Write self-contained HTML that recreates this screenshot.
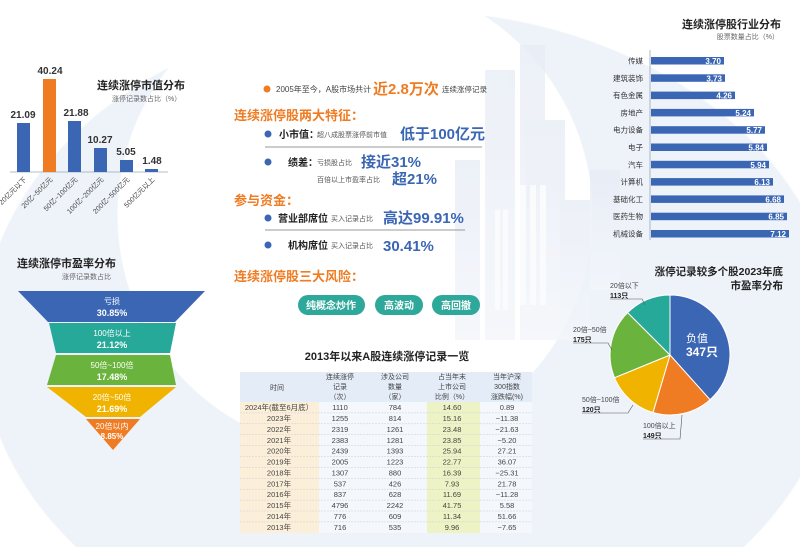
<!DOCTYPE html>
<html><head><meta charset="utf-8">
<style>
html,body{margin:0;padding:0;width:800px;height:547px;overflow:hidden;}
body{background:
radial-gradient(circle 238px at 355px 215px,#ffffff 99.6%,rgba(255,255,255,0) 100%),
radial-gradient(ellipse 430px 330px at 410px 340px,#eef3fa 99.6%,#ffffff 100%);}
svg{display:block;font-family:"Liberation Sans","Noto Sans CJK SC",sans-serif;}
</style></head><body>
<svg width="800" height="547" viewBox="0 0 800 547" xmlns="http://www.w3.org/2000/svg">
<defs>
<linearGradient id="bld" x1="0" y1="0" x2="0" y2="1">
<stop offset="0" stop-color="#e8edf6"/><stop offset="1" stop-color="#f3f6fb"/>
</linearGradient>
</defs>
<g fill="url(#bld)" opacity="0.8">
<rect x="485" y="70" width="30" height="270"/>
<rect x="520" y="45" width="25" height="295"/>
<rect x="525" y="120" width="40" height="220"/>
<rect x="560" y="200" width="30" height="140"/>
<rect x="455" y="160" width="25" height="180"/>
<rect x="590" y="170" width="30" height="120"/>
</g>
<g fill="#fbfcfe" opacity="0.9">
<rect x="520" y="185" width="6" height="120"/><rect x="530" y="185" width="6" height="120"/><rect x="540" y="185" width="6" height="120"/>
<rect x="495" y="210" width="5" height="100"/><rect x="503" y="210" width="5" height="100"/>
</g>

<!-- market value bar chart -->
<g>
<line x1="10" y1="172" x2="168" y2="172" stroke="#9aa6b8" stroke-width="0.8"/>
<rect x="17" y="123" width="13" height="49" fill="#3a66b4"/>
<rect x="43" y="79" width="13" height="93" fill="#ef7b22"/>
<rect x="68" y="121" width="13" height="51" fill="#3a66b4"/>
<rect x="94" y="148" width="13" height="24" fill="#3a66b4"/>
<rect x="120" y="160" width="13" height="12" fill="#3a66b4"/>
<rect x="145" y="169" width="13" height="3" fill="#3a66b4"/>
<g font-size="10" font-weight="bold" fill="#333" text-anchor="middle">
<text x="23" y="118">21.09</text><text x="50" y="74">40.24</text><text x="76" y="116">21.88</text>
<text x="100" y="143">10.27</text><text x="126" y="155">5.05</text><text x="152" y="164">1.48</text>
</g>
<g font-size="7" fill="#444" text-anchor="end">
<text transform="translate(27,180) rotate(-45)">20亿元以下</text>
<text transform="translate(53,180) rotate(-45)">20亿~50亿元</text>
<text transform="translate(78,180) rotate(-45)">50亿~100亿元</text>
<text transform="translate(104,180) rotate(-45)">100亿~200亿元</text>
<text transform="translate(130,180) rotate(-45)">200亿~500亿元</text>
<text transform="translate(155,180) rotate(-45)">500亿元以上</text>
</g>
<text x="97" y="89" font-size="11" font-weight="bold" fill="#222">连续涨停市值分布</text>
<text x="112" y="101" font-size="7" fill="#666">涨停记录数占比（%）</text>
</g>

<!-- funnel -->
<g>
<text x="17" y="267" font-size="11" font-weight="bold" fill="#222">连续涨停市盈率分布</text>
<text x="62" y="279" font-size="7" fill="#666">涨停记录数占比</text>
<polygon points="18,291 205,291 175,322 48,322" fill="#3a66b4"/>
<polygon points="49,323 176,323 170,353 56,353" fill="#27a99a"/>
<polygon points="56,355 170,355 176,385 47,385" fill="#6ab33c"/>
<polygon points="47,387 176,387 140,417 86,417" fill="#f0b400"/>
<polygon points="86,419 140,419 113,450" fill="#ef7b22"/>
<g fill="#fff" text-anchor="middle" font-size="8">
<text x="112" y="304">亏损</text><text x="112" y="316" font-size="9" font-weight="bold">30.85%</text>
<text x="112" y="336">100倍以上</text><text x="112" y="348" font-size="9" font-weight="bold">21.12%</text>
<text x="112" y="368">50倍~100倍</text><text x="112" y="380" font-size="9" font-weight="bold">17.48%</text>
<text x="112" y="400">20倍~50倍</text><text x="112" y="412" font-size="9" font-weight="bold">21.69%</text>
<text x="112" y="429">20倍以内</text><text x="112" y="439" font-size="8" font-weight="bold">8.85%</text>
</g>
</g>

<!-- center text -->
<g>
<circle cx="267" cy="89" r="3.5" fill="#ef7b22"/>
<text x="276" y="92" font-size="8" fill="#444">2005年至今，A股市场共计</text>
<text x="373" y="94" font-size="15" font-weight="bold" fill="#ef7b22">近2.8万次</text>
<text x="442" y="92" font-size="7.5" fill="#444">连续涨停记录</text>
<text x="234" y="120" font-size="13" font-weight="bold" fill="#ef7b22">连续涨停股两大特征：</text>
<circle cx="268" cy="134" r="3.5" fill="#3a66b4"/>
<text x="279" y="138" font-size="10" font-weight="bold" fill="#222">小市值：</text>
<text x="317" y="137" font-size="7" fill="#555">超八成股票涨停前市值</text>
<text x="400" y="139" font-size="15" font-weight="bold" fill="#3a66b4">低于100亿元</text>
<line x1="265" y1="147" x2="482" y2="147" stroke="#999" stroke-width="1"/>
<circle cx="268" cy="162" r="3.5" fill="#3a66b4"/>
<text x="288" y="166" font-size="10" font-weight="bold" fill="#222">绩差：</text>
<text x="317" y="165" font-size="7" fill="#555">亏损股占比</text>
<text x="361" y="167" font-size="15" font-weight="bold" fill="#3a66b4">接近31%</text>
<text x="317" y="182" font-size="7" fill="#555">百倍以上市盈率占比</text>
<text x="392" y="184" font-size="15" font-weight="bold" fill="#3a66b4">超21%</text>
<text x="234" y="205" font-size="13" font-weight="bold" fill="#ef7b22">参与资金：</text>
<circle cx="268" cy="218" r="3.5" fill="#3a66b4"/>
<text x="278" y="222" font-size="10" font-weight="bold" fill="#222">营业部席位</text>
<text x="331" y="221" font-size="7" fill="#555">买入记录占比</text>
<text x="383" y="223" font-size="15" font-weight="bold" fill="#3a66b4">高达99.91%</text>
<line x1="265" y1="230" x2="465" y2="230" stroke="#999" stroke-width="1"/>
<circle cx="268" cy="245" r="3.5" fill="#3a66b4"/>
<text x="288" y="249" font-size="10" font-weight="bold" fill="#222">机构席位</text>
<text x="331" y="248" font-size="7" fill="#555">买入记录占比</text>
<text x="383" y="251" font-size="15" font-weight="bold" fill="#3a66b4">30.41%</text>
<text x="234" y="281" font-size="13" font-weight="bold" fill="#ef7b22">连续涨停股三大风险：</text>
<rect x="298" y="295" width="67" height="20" rx="10" fill="#2ea89a"/>
<rect x="375" y="295" width="48" height="20" rx="10" fill="#2ea89a"/>
<rect x="432" y="295" width="48" height="20" rx="10" fill="#2ea89a"/>
<g fill="#fff" font-size="10" font-weight="bold" text-anchor="middle">
<text x="331" y="309">纯概念炒作</text><text x="399" y="309">高波动</text><text x="456" y="309">高回撤</text>
</g>
</g>

<!-- industry chart -->
<g>
<text x="781" y="28" font-size="11" font-weight="bold" fill="#222" text-anchor="end">连续涨停股行业分布</text>
<text x="779" y="39" font-size="7" fill="#666" text-anchor="end">股票数量占比（%）</text>
<line x1="650" y1="50" x2="650" y2="240" stroke="#9aa6b8" stroke-width="0.8"/>
<g font-size="7.5" fill="#333" text-anchor="end">
<text x="643" y="63.5">传媒</text><text x="643" y="80.8">建筑装饰</text><text x="643" y="98.1">有色金属</text>
<text x="643" y="115.4">房地产</text><text x="643" y="132.7">电力设备</text><text x="643" y="150">电子</text>
<text x="643" y="167.3">汽车</text><text x="643" y="184.6">计算机</text><text x="643" y="201.9">基础化工</text>
<text x="643" y="219.2">医药生物</text><text x="643" y="236.5">机械设备</text>
</g>
<g fill="#3a66b4">
<rect x="651" y="57" width="73" height="7.5"/>
<rect x="651" y="74.3" width="74" height="7.5"/>
<rect x="651" y="91.6" width="84" height="7.5"/>
<rect x="651" y="108.9" width="103" height="7.5"/>
<rect x="651" y="126.2" width="114" height="7.5"/>
<rect x="651" y="143.5" width="116" height="7.5"/>
<rect x="651" y="160.8" width="118" height="7.5"/>
<rect x="651" y="178.1" width="122" height="7.5"/>
<rect x="651" y="195.4" width="133" height="7.5"/>
<rect x="651" y="212.7" width="136" height="7.5"/>
<rect x="651" y="230" width="138" height="7.5"/>
</g>
<g font-size="8" font-weight="bold" fill="#fff" text-anchor="end">
<text x="721" y="64">3.70</text><text x="722" y="81.3">3.73</text><text x="732" y="98.6">4.26</text>
<text x="751" y="115.9">5.24</text><text x="762" y="133.2">5.77</text><text x="764" y="150.5">5.84</text>
<text x="766" y="167.8">5.94</text><text x="770" y="185.1">6.13</text><text x="781" y="202.4">6.68</text>
<text x="784" y="219.7">6.85</text><text x="786" y="237">7.12</text>
</g>
</g>

<!-- pie -->
<g>
<text x="783" y="275" font-size="10.5" font-weight="bold" fill="#222" text-anchor="end">涨停记录较多个股2023年底</text>
<text x="783" y="289" font-size="10.5" font-weight="bold" fill="#222" text-anchor="end">市盈率分布</text>
<g stroke="#fff" stroke-width="1">
<path d="M670 355 L670 295 A60 60 0 0 1 710.0 399.7 Z" fill="#3a66b4"/>
<path d="M670 355 L710.0 399.7 A60 60 0 0 1 653.0 412.5 Z" fill="#ef7b22"/>
<path d="M670 355 L653.0 412.5 A60 60 0 0 1 614.5 377.7 Z" fill="#f0b400"/>
<path d="M670 355 L614.5 377.7 A60 60 0 0 1 627.6 312.6 Z" fill="#6ab33c"/>
<path d="M670 355 L627.6 312.6 A60 60 0 0 1 670 295 Z" fill="#27a99a"/>
</g>
<text x="686" y="342" font-size="11" fill="#fff">负值</text>
<text x="686" y="356" font-size="12" font-weight="bold" fill="#fff">347只</text>
<g stroke="#555" stroke-width="0.6" fill="none">
<polyline points="610,299 642,299 645,305"/>
<polyline points="573,343 608,343 612,350"/>
<polyline points="582,413 628,413 633,405"/>
<polyline points="643,439 680,439 682,415"/>
</g>
<g font-size="7" fill="#444">
<text x="610" y="288">20倍以下</text><text x="610" y="298" font-weight="bold" fill="#222">113只</text>
<text x="573" y="332">20倍~50倍</text><text x="573" y="342" font-weight="bold" fill="#222">175只</text>
<text x="582" y="402">50倍~100倍</text><text x="582" y="412" font-weight="bold" fill="#222">120只</text>
<text x="643" y="428">100倍以上</text><text x="643" y="438" font-weight="bold" fill="#222">149只</text>
</g>
</g>

<!-- table -->
<g>
<text x="387" y="360" font-size="11" font-weight="bold" fill="#222" text-anchor="middle">2013年以来A股连续涨停记录一览</text>
<rect x="240" y="372" width="292" height="30" fill="#e3ecf7"/>
<rect x="240" y="402" width="79" height="131" fill="#fcefd9"/>
<rect x="319" y="402" width="213" height="131" fill="#f4f7fb"/>
<rect x="427" y="402" width="53" height="131" fill="#eef3c6"/>
<g font-size="7" fill="#444" text-anchor="middle">
<text x="277" y="390">时间</text>
<text x="340" y="379">连续涨停</text><text x="340" y="389">记录</text><text x="340" y="399">（次）</text>
<text x="395" y="379">涉及公司</text><text x="395" y="389">数量</text><text x="395" y="399">（家）</text>
<text x="452" y="379">占当年末</text><text x="452" y="389">上市公司</text><text x="452" y="399">比例（%）</text>
<text x="507" y="379">当年沪深</text><text x="507" y="389">300指数</text><text x="507" y="399">涨跌幅(%)</text>
</g>
<g stroke="#c8cfd9" stroke-width="0.5" stroke-dasharray="2,1">
<line x1="240" y1="412.9" x2="532" y2="412.9"/><line x1="240" y1="423.8" x2="532" y2="423.8"/>
<line x1="240" y1="434.7" x2="532" y2="434.7"/><line x1="240" y1="445.6" x2="532" y2="445.6"/>
<line x1="240" y1="456.5" x2="532" y2="456.5"/><line x1="240" y1="467.4" x2="532" y2="467.4"/>
<line x1="240" y1="478.3" x2="532" y2="478.3"/><line x1="240" y1="489.2" x2="532" y2="489.2"/>
<line x1="240" y1="500.1" x2="532" y2="500.1"/><line x1="240" y1="511" x2="532" y2="511"/>
<line x1="240" y1="521.9" x2="532" y2="521.9"/>
</g>
<g font-size="7.5" fill="#444" text-anchor="middle">
<text x="279" y="410">2024年(截至6月底）</text><text x="340" y="410">1110</text><text x="395" y="410">784</text><text x="452" y="410">14.60</text><text x="507" y="410">0.89</text>
<text x="279" y="421">2023年</text><text x="340" y="421">1255</text><text x="395" y="421">814</text><text x="452" y="421">15.16</text><text x="507" y="421">−11.38</text>
<text x="279" y="432">2022年</text><text x="340" y="432">2319</text><text x="395" y="432">1261</text><text x="452" y="432">23.48</text><text x="507" y="432">−21.63</text>
<text x="279" y="443">2021年</text><text x="340" y="443">2383</text><text x="395" y="443">1281</text><text x="452" y="443">23.85</text><text x="507" y="443">−5.20</text>
<text x="279" y="453.5">2020年</text><text x="340" y="453.5">2439</text><text x="395" y="453.5">1393</text><text x="452" y="453.5">25.94</text><text x="507" y="453.5">27.21</text>
<text x="279" y="464.5">2019年</text><text x="340" y="464.5">2005</text><text x="395" y="464.5">1223</text><text x="452" y="464.5">22.77</text><text x="507" y="464.5">36.07</text>
<text x="279" y="475.5">2018年</text><text x="340" y="475.5">1307</text><text x="395" y="475.5">880</text><text x="452" y="475.5">16.39</text><text x="507" y="475.5">−25.31</text>
<text x="279" y="486.5">2017年</text><text x="340" y="486.5">537</text><text x="395" y="486.5">426</text><text x="452" y="486.5">7.93</text><text x="507" y="486.5">21.78</text>
<text x="279" y="497">2016年</text><text x="340" y="497">837</text><text x="395" y="497">628</text><text x="452" y="497">11.69</text><text x="507" y="497">−11.28</text>
<text x="279" y="508">2015年</text><text x="340" y="508">4796</text><text x="395" y="508">2242</text><text x="452" y="508">41.75</text><text x="507" y="508">5.58</text>
<text x="279" y="519">2014年</text><text x="340" y="519">776</text><text x="395" y="519">609</text><text x="452" y="519">11.34</text><text x="507" y="519">51.66</text>
<text x="279" y="530">2013年</text><text x="340" y="530">716</text><text x="395" y="530">535</text><text x="452" y="530">9.96</text><text x="507" y="530">−7.65</text>
</g>
</g>
</svg>
</body></html>
